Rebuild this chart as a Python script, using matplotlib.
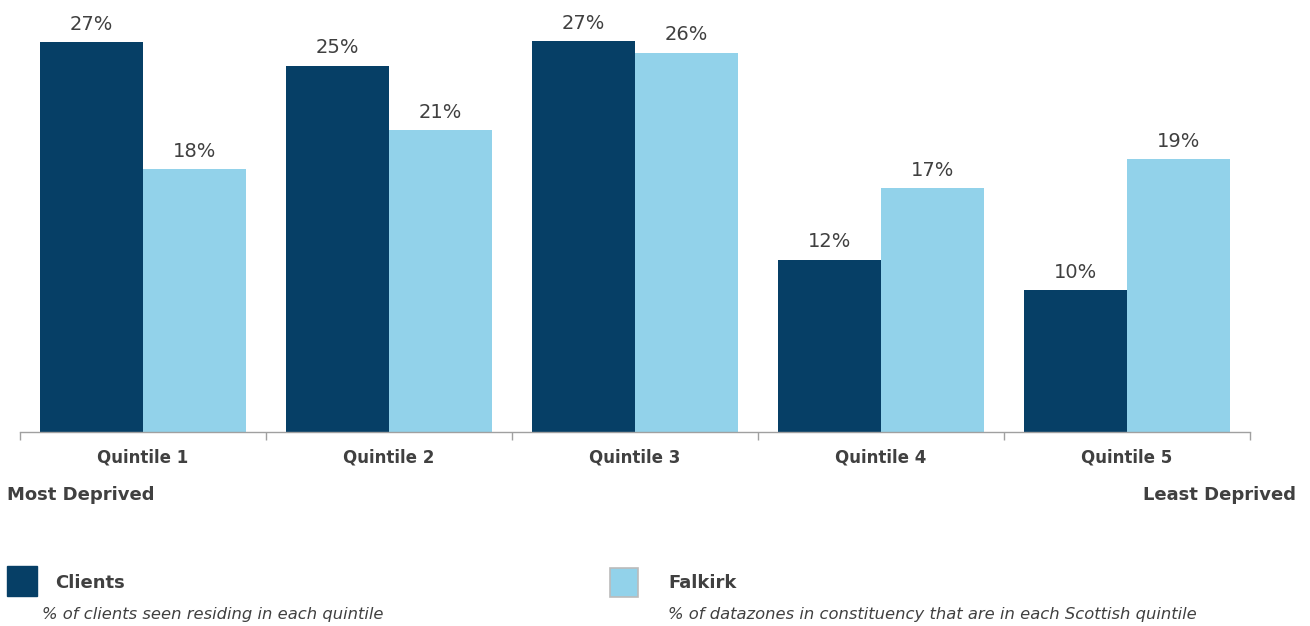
import numpy as np
import matplotlib.pyplot as plt
from matplotlib.patches import Rectangle

# data
quintiles = ['Quintile 1', 'Quintile 2', 'Quintile 3', 'Quintile 4', 'Quintile 5']
clients = [26.7, 25.1, 26.8, 11.8, 9.7]
falkirk = [18.0, 20.7, 26.0, 16.7, 18.7]
client_labels = ['27%', '25%', '27%', '12%', '10%']
falkirk_labels = ['18%', '21%', '26%', '17%', '19%']

dark = '#063F66'
light = '#92D2EA'
txt = '#404040'

fig = plt.figure(figsize=(13.1, 6.26), dpi=100)
W, H = 1310, 626
ax = fig.add_axes([20 / W, (H - 432) / H, 1230 / W, 432 / H])

x = np.arange(len(quintiles))
w = 0.4167
b1 = ax.bar(x - w / 2, clients, w, color=dark)
b2 = ax.bar(x + w / 2, falkirk, w, color=light)

for bars, labs in [(b1, client_labels), (b2, falkirk_labels)]:
    for r, lab in zip(bars, labs):
        ax.annotate(lab, (r.get_x() + r.get_width() / 2, r.get_height()),
                    xytext=(0, 6), textcoords='offset points',
                    ha='center', va='bottom', fontsize=14, color=txt)

ax.set_xlim(-0.5, 4.5)
ax.set_ylim(0, 29.6)
ax.set_yticks([])
for s in ['top', 'right', 'left']:
    ax.spines[s].set_visible(False)
ax.spines['bottom'].set_color('#A0A0A0')
ax.spines['bottom'].set_linewidth(1.0)

# ticks at category boundaries, labels centred
ax.set_xticks(np.arange(-0.5, 5, 1))
ax.set_xticklabels([])
ax.tick_params(axis='x', length=6, color='#A0A0A0', width=1.0)
for i, q in enumerate(quintiles):
    ax.text(i, -0.058, q, transform=ax.get_xaxis_transform(),
            ha='center', va='center', fontsize=12, fontweight='bold', color=txt)

fig.text(7 / W, 1 - 495 / H, 'Most Deprived', ha='left', va='center',
         fontsize=13, fontweight='bold', color=txt)
fig.text(1296 / W, 1 - 495 / H, 'Least Deprived', ha='right', va='center',
         fontsize=13, fontweight='bold', color=txt)

# legend drawn by hand
fig.patches.append(Rectangle((7 / W, 1 - 596 / H), 30 / W, 30 / H,
                             transform=fig.transFigure, color=dark))
fig.patches.append(Rectangle((610 / W, 1 - 597 / H), 28 / W, 29 / H,
                             transform=fig.transFigure, facecolor=light,
                             edgecolor='#BBBBBB', linewidth=1.2))
fig.text(55 / W, 1 - 583 / H, 'Clients', ha='left', va='center',
         fontsize=13, fontweight='bold', color=txt)
fig.text(42 / W, 1 - 614 / H, '% of clients seen residing in each quintile',
         ha='left', va='center', fontsize=11.8, style='italic', color=txt)
fig.text(668 / W, 1 - 583 / H, 'Falkirk', ha='left', va='center',
         fontsize=13, fontweight='bold', color=txt)
fig.text(668 / W, 1 - 614 / H,
         '% of datazones in constituency that are in each Scottish quintile',
         ha='left', va='center', fontsize=11.8, style='italic', color=txt)

fig.savefig('out.png', dpi=100)
